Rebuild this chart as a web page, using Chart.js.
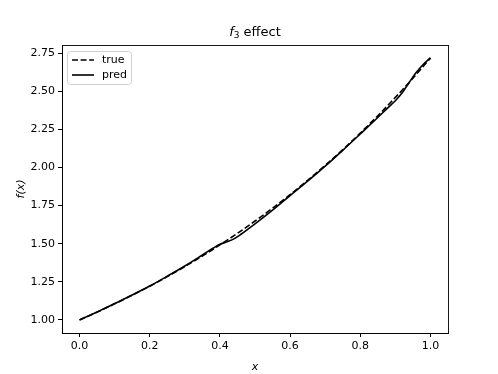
<!DOCTYPE html>
<html>
<head>
<meta charset="utf-8">
<script src="https://cdn.jsdelivr.net/npm/chart.js@4/dist/chart.umd.min.js"></script>
<style>body{margin:0;background:#fff}</style>
</head>
<body>
<canvas id="c" width="498" height="374"></canvas>
<script>
var trueX = [0, 0.05, 0.1, 0.15, 0.2, 0.25, 0.3, 0.35, 0.4, 0.45, 0.5, 0.55, 0.6, 0.65, 0.7, 0.75, 0.8, 0.85, 0.9, 0.95, 1.0];
var trueY = [1.000, 1.051, 1.105, 1.162, 1.221, 1.284, 1.350, 1.419, 1.492, 1.568, 1.649, 1.733, 1.822, 1.916, 2.014, 2.117, 2.226, 2.340, 2.460, 2.586, 2.718];

var predX = [0, 0.05, 0.1, 0.15, 0.2, 0.25, 0.3, 0.35, 0.38, 0.4, 0.42, 0.44, 0.46, 0.48, 0.5, 0.55, 0.6, 0.65, 0.7, 0.75, 0.8, 0.85, 0.88, 0.9, 0.92, 0.94, 0.96, 0.98, 1.0];
var predY = [1.000, 1.052, 1.107, 1.163, 1.222, 1.287, 1.354, 1.426, 1.470, 1.496, 1.512, 1.532, 1.562, 1.596, 1.630, 1.720, 1.816, 1.910, 2.009, 2.113, 2.220, 2.328, 2.395, 2.438, 2.492, 2.560, 2.625, 2.678, 2.720];

var xTicks = [0.0, 0.2, 0.4, 0.6, 0.8, 1.0];
var yTicks = [1.00, 1.25, 1.50, 1.75, 2.00, 2.25, 2.50, 2.75];

var legendLabels = ['true', 'pred'];
var FONT = '"DejaVu Sans", sans-serif';

function pts(xs, ys) {
    var out = [];
    for (let i = 0; i < xs.length; i++) out.push({x: xs[i], y: ys[i]});
    return out;
}

var framePlugin = {
    id: 'frame',
    afterDraw: function(chart) {
        var ctx = chart.ctx, a = chart.chartArea;
        ctx.save();
        // spines
        ctx.strokeStyle = '#000';
        ctx.lineWidth = 0.9;
        ctx.strokeRect(Math.round(a.left) + 0.5, Math.round(a.top) + 0.5, Math.round(a.right - a.left), Math.round(a.bottom - a.top));

        // title: f_3 effect
        var cx = (a.left + a.right) / 2, ty = 33;
        var p1 = 'f', p2 = '3', p3 = ' effect';
        ctx.textBaseline = 'middle';
        ctx.font = 'italic 13px ' + FONT;
        var w1 = ctx.measureText(p1).width;
        ctx.font = '9px ' + FONT;
        var w2 = ctx.measureText(p2).width;
        ctx.font = '13px ' + FONT;
        var w3 = ctx.measureText(p3).width;
        var x0 = cx - (w1 + w2 + w3) / 2;
        ctx.fillStyle = '#000';
        ctx.textAlign = 'left';
        ctx.font = 'italic 13px ' + FONT;
        ctx.fillText(p1, x0, ty);
        ctx.font = '9px ' + FONT;
        ctx.fillText(p2, x0 + w1, ty + 3);
        ctx.font = '13px ' + FONT;
        ctx.fillText(p3, x0 + w1 + w2, ty);

        // legend box
        var lx = a.left + 5, ly = a.top + 6, lw = 64, lh = 33;
        ctx.beginPath();
        ctx.roundRect(lx + 0.5, ly + 0.5, lw, lh, 3);
        ctx.fillStyle = 'rgba(255,255,255,0.8)';
        ctx.fill();
        ctx.strokeStyle = '#d0d0d0';
        ctx.lineWidth = 1;
        ctx.stroke();
        ctx.font = '11px ' + FONT;
        ctx.fillStyle = '#000';
        for (let i = 0; i < legendLabels.length; i++) {
            var yy = ly + 9 + i * 15;
            ctx.beginPath();
            ctx.setLineDash(i === 0 ? [6, 2.6] : []);
            ctx.strokeStyle = '#000';
            ctx.lineWidth = 1.6;
            ctx.moveTo(lx + 5, yy);
            ctx.lineTo(lx + 27, yy);
            ctx.stroke();
            ctx.setLineDash([]);
            ctx.fillText(legendLabels[i], lx + 35, yy);
        }
        ctx.restore();
    }
};

var ctx = document.getElementById('c');
var chart = new Chart(ctx, {
    type: 'line',
    data: {
        datasets: [{
            label: 'true',
            data: pts(trueX, trueY),
            borderColor: '#000',
            borderWidth: 1.6,
            borderDash: [6, 2.6],
            pointRadius: 0,
            cubicInterpolationMode: 'monotone',
            order: 1
        }, {
            label: 'pred',
            data: pts(predX, predY),
            borderColor: '#000',
            borderWidth: 1.6,
            pointRadius: 0,
            cubicInterpolationMode: 'monotone',
            order: 0
        }]
    },
    options: {
        responsive: false,
        animation: false,
        devicePixelRatio: 1,
        layout: {padding: {left: 0, right: 50, top: 45, bottom: 0}},
        plugins: {legend: {display: false}, tooltip: {enabled: false}},
        scales: {
            x: {
                type: 'linear',
                min: -0.05,
                max: 1.05,
                afterBuildTicks: function(s) { s.ticks = xTicks.map(v => ({value: v})); },
                afterFit: function(s) { s.height = 41; },
                ticks: {
                    color: '#000',
                    font: {family: FONT, size: 11},
                    padding: 3,
                    maxRotation: 0,
                    callback: v => v.toFixed(1)
                },
                grid: {drawOnChartArea: false, tickLength: 4, color: '#000'},
                border: {color: '#000', width: 0.9},
                title: {
                    display: true,
                    text: 'x',
                    color: '#000',
                    font: {family: FONT, size: 11, style: 'italic'},
                    padding: {top: 8, bottom: 0}
                }
            },
            y: {
                min: 0.914,
                max: 2.804,
                afterBuildTicks: function(s) { s.ticks = yTicks.map(v => ({value: v})); },
                afterFit: function(s) { s.width = 62; },
                ticks: {
                    color: '#000',
                    font: {family: FONT, size: 11},
                    padding: 3,
                    callback: v => v.toFixed(2)
                },
                grid: {drawOnChartArea: false, tickLength: 4, color: '#000'},
                border: {color: '#000', width: 0.9},
                title: {
                    display: true,
                    text: 'f(x)',
                    color: '#000',
                    font: {family: FONT, size: 11, style: 'italic'},
                    padding: {top: 15, bottom: 0}
                }
            }
        }
    },
    plugins: [framePlugin]
});
</script>
</body>
</html>
